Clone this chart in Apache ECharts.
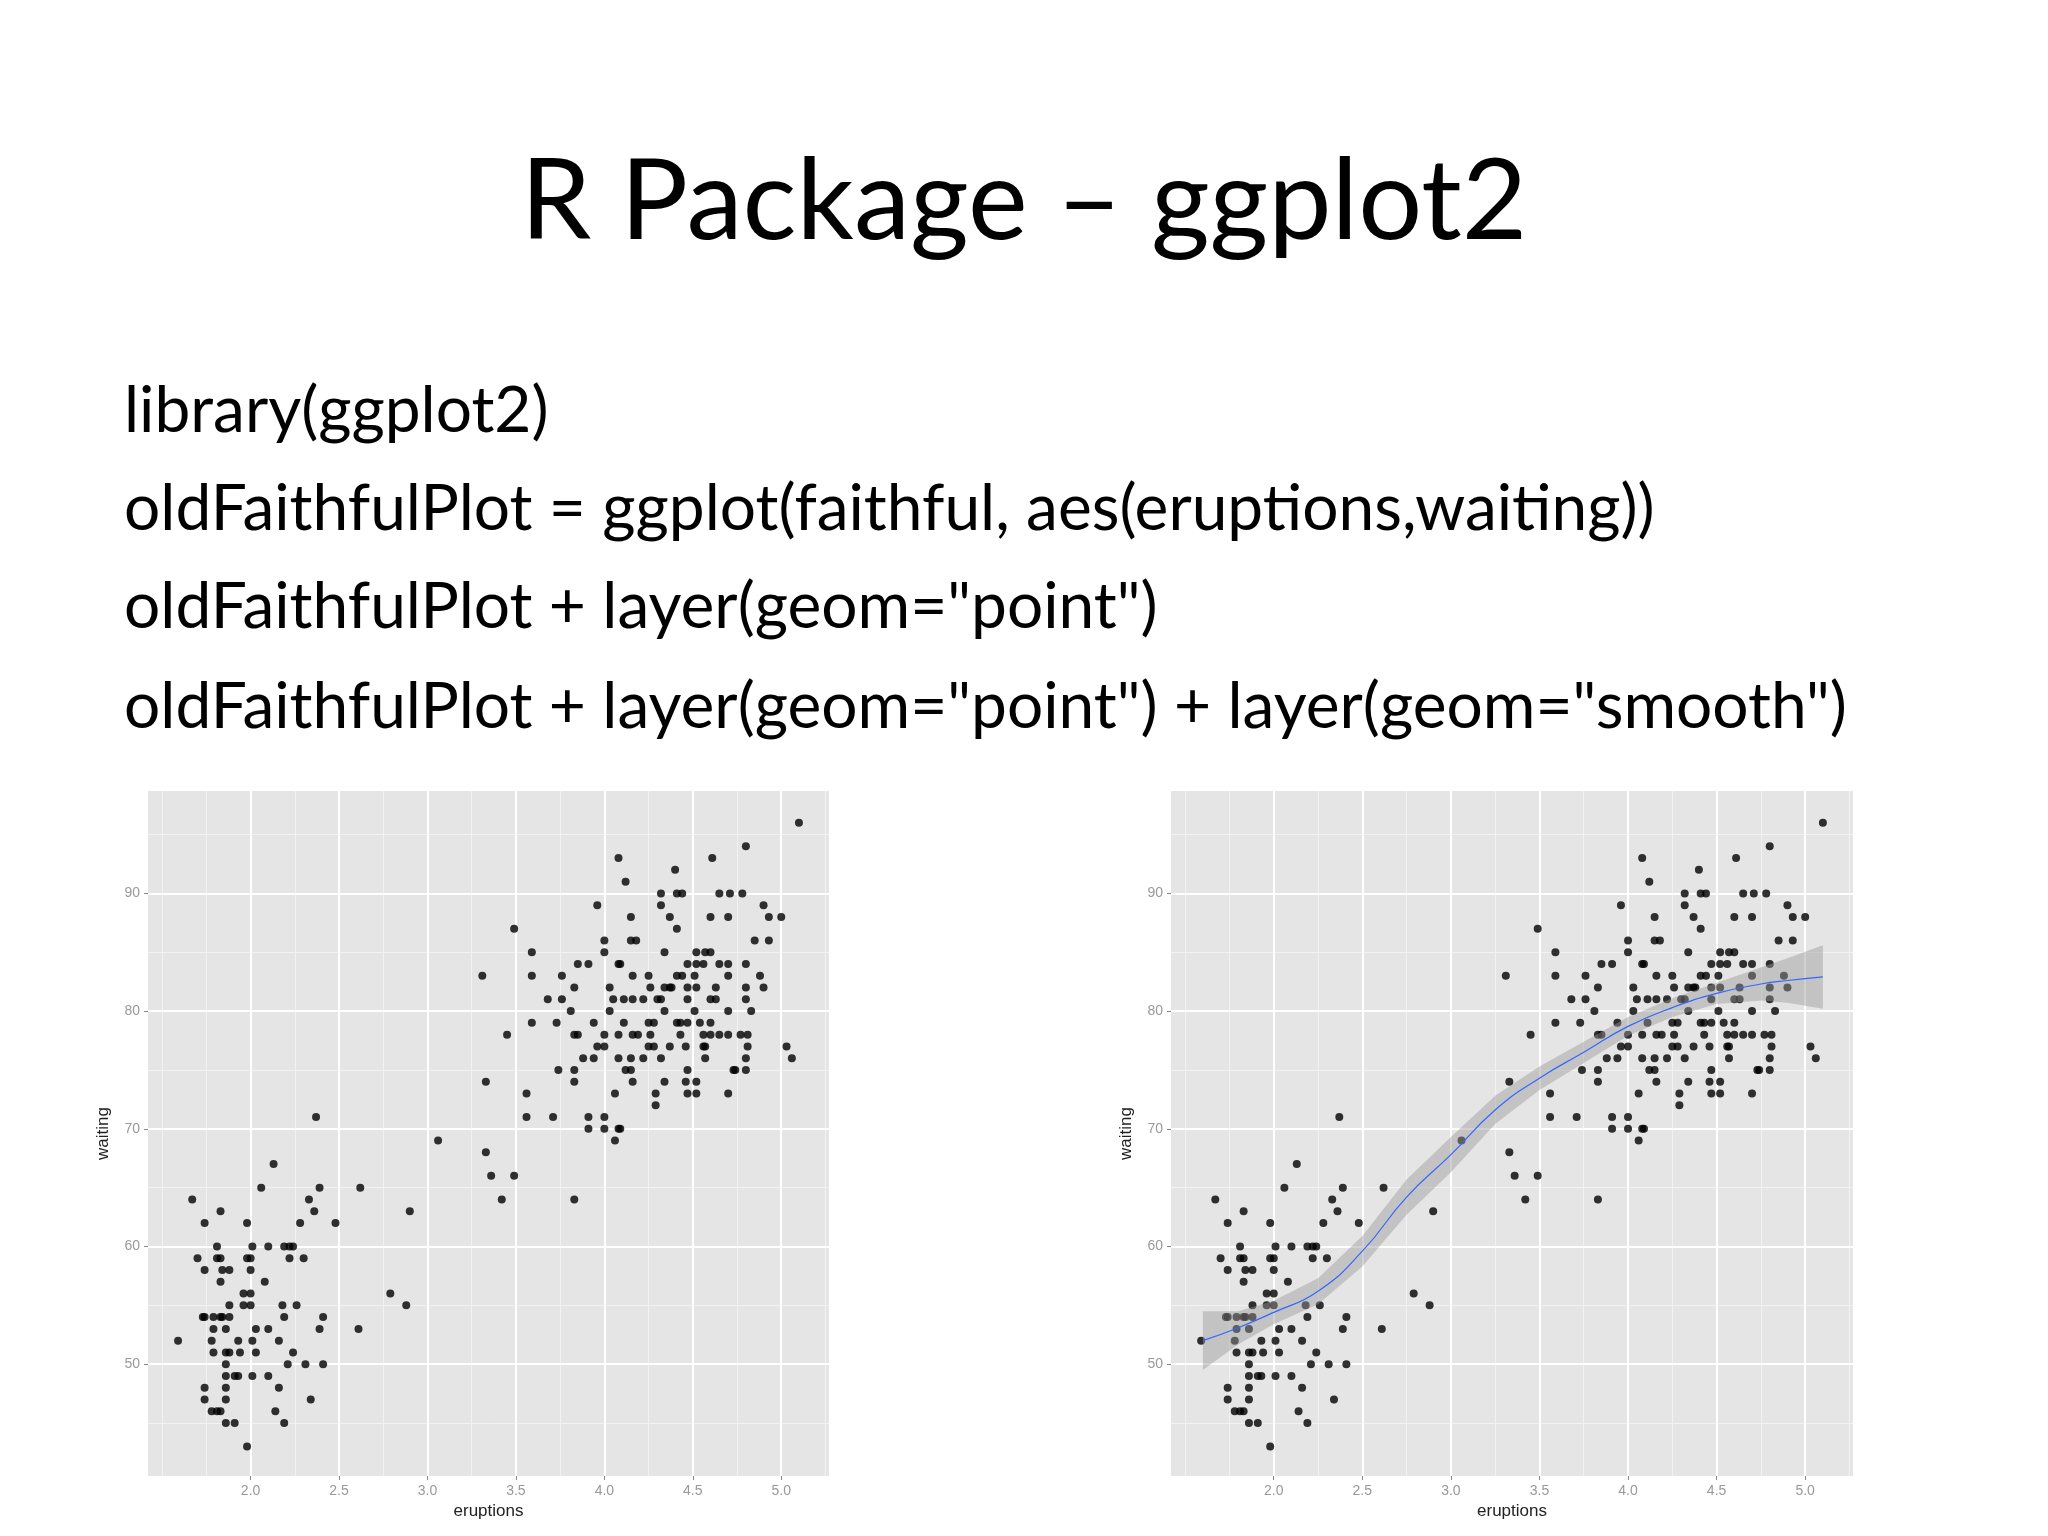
<!DOCTYPE html>
<html>
<head>
<meta charset="utf-8">
<script src="https://cdn.jsdelivr.net/npm/echarts@6/dist/echarts.min.js"></script>
<style>html,body{margin:0;background:#fff}#main{width:2048px;height:1536px}</style>
</head>
<body>
<div id="main"></div>
<script>
// faithful points, grouped by waiting value
var waitingGroups = [
    [96, [5.10]], [94, [4.80]], [93, [4.08, 4.61]], [92, [4.40]], [91, [4.12]],
    [90, [4.32, 4.41, 4.44, 4.65, 4.71, 4.78]],
    [89, [3.96, 4.32, 4.90]],
    [88, [4.15, 4.37, 4.60, 4.70, 4.93, 5.00]],
    [87, [3.49, 4.41]],
    [86, [4.00, 4.15, 4.18, 4.85, 4.93]],
    [85, [3.59, 4.00, 4.34, 4.52, 4.57, 4.60]],
    [84, [3.85, 3.91, 4.08, 4.09, 4.47, 4.52, 4.56, 4.65, 4.70, 4.80]],
    [83, [3.31, 3.59, 3.76, 4.16, 4.25, 4.41, 4.44, 4.51, 4.70, 4.88]],
    [82, [3.83, 4.03, 4.26, 4.34, 4.37, 4.38, 4.47, 4.52, 4.63, 4.80, 4.90]],
    [81, [3.68, 3.76, 4.05, 4.11, 4.16, 4.22, 4.30, 4.32, 4.47, 4.60, 4.63, 4.80]],
    [80, [3.81, 4.03, 4.34, 4.51, 4.70, 4.83]],
    [79, [3.59, 3.73, 3.94, 4.11, 4.25, 4.28, 4.41, 4.43, 4.47, 4.54, 4.60]],
    [78, [3.45, 3.83, 3.85, 4.00, 4.08, 4.16, 4.19, 4.26, 4.43, 4.56, 4.60, 4.65, 4.70, 4.77, 4.81]],
    [77, [3.96, 4.00, 4.25, 4.28, 4.37, 4.46, 4.56, 4.57, 4.81, 5.03]],
    [76, [3.88, 3.94, 4.08, 4.15, 4.22, 4.32, 4.57, 4.80, 5.06]],
    [75, [3.74, 3.83, 4.12, 4.15, 4.47, 4.73, 4.74, 4.80]],
    [74, [3.33, 3.83, 4.16, 4.34, 4.46, 4.52]],
    [73, [3.56, 4.06, 4.29, 4.47, 4.52, 4.70]],
    [72, [4.29]],
    [71, [2.37, 3.56, 3.71, 3.91, 4.00]],
    [70, [3.91, 4.00, 4.08, 4.09]],
    [69, [3.06, 4.06]],
    [68, [3.33]],
    [67, [2.13]],
    [66, [3.36, 3.49]],
    [65, [2.06, 2.39, 2.62]],
    [64, [1.67, 2.33, 3.42, 3.83]],
    [63, [1.83, 2.36, 2.90]],
    [62, [1.74, 1.98, 2.28, 2.48]],
    [60, [1.81, 2.01, 2.10, 2.19, 2.22, 2.24]],
    [59, [1.70, 1.81, 1.83, 1.98, 2.00, 2.22, 2.30]],
    [58, [1.74, 1.84, 1.88, 2.00]],
    [57, [1.83, 2.08]],
    [56, [1.96, 2.00, 2.79]],
    [55, [1.88, 1.96, 2.00, 2.18, 2.26, 2.88]],
    [54, [1.73, 1.74, 1.79, 1.83, 1.84, 1.88, 2.19, 2.41]],
    [53, [1.79, 1.86, 2.03, 2.10, 2.39, 2.61]],
    [52, [1.59, 1.78, 1.93, 2.01, 2.16]],
    [51, [1.79, 1.86, 1.88, 1.94, 2.03, 2.24]],
    [50, [1.86, 2.21, 2.31, 2.41]],
    [49, [1.86, 1.91, 1.93, 2.01, 2.10]],
    [48, [1.74, 1.86, 2.16]],
    [47, [1.74, 1.86, 2.34]],
    [46, [1.78, 1.81, 1.83, 2.14]],
    [45, [1.86, 1.91, 2.19]],
    [43, [1.98]]
];

// loess fit and half-width of its confidence band
var smoothX  = [1.6, 1.8, 2.0, 2.25, 2.5, 2.75, 3.0, 3.25, 3.5, 3.75, 4.0, 4.25, 4.5, 4.75, 4.9, 5.1];
var smoothY  = [52.0, 53.1, 54.4, 56.2, 59.6, 64.2, 67.8, 71.6, 74.3, 76.5, 78.7, 80.3, 81.5, 82.3, 82.6, 82.9];
var smoothSE = [2.5, 1.4, 1.0, 1.1, 1.3, 1.5, 1.5, 1.2, 1.0, 0.9, 0.8, 0.8, 0.9, 1.4, 1.9, 2.7];

var xTicks = [2.0, 2.5, 3.0, 3.5, 4.0, 4.5, 5.0];
var yTicks = [50, 60, 70, 80, 90];
var xMinor = [1.5, 1.75, 2.25, 2.75, 3.25, 3.75, 4.25, 4.75, 5.25];
var yMinor = [45, 55, 65, 75, 85, 95];

var points = [];
waitingGroups.forEach(function (g) {
    g[1].forEach(function (e) { points.push([e, g[0]]); });
});
var fit = [], bandData = [];
for (var i = 0; i < smoothX.length; i++) {
    fit.push([smoothX[i], smoothY[i]]);
    bandData.push([smoothX[i], smoothY[i] - smoothSE[i], smoothY[i] + smoothSE[i]]);
}

var font = 'Liberation Sans';
function gridLines() {
    var d = [];
    xMinor.forEach(function (v) { d.push({xAxis: v, lineStyle: {color: '#f2f2f2', width: 1, type: 'solid'}}); });
    yMinor.forEach(function (v) { d.push({yAxis: v, lineStyle: {color: '#f2f2f2', width: 1, type: 'solid'}}); });
    xTicks.forEach(function (v) { d.push({xAxis: v, lineStyle: {color: '#ffffff', width: 2, type: 'solid'}}); });
    yTicks.forEach(function (v) { d.push({yAxis: v, lineStyle: {color: '#ffffff', width: 2, type: 'solid'}}); });
    return d;
}
function xAx(idx) {
    return {
        type: 'value', gridIndex: idx, min: 1.42, max: 5.27,
        name: 'eruptions', nameLocation: 'middle', nameGap: 27,
        nameTextStyle: {color: '#222', fontSize: 17, fontFamily: font},
        axisLine: {show: false}, splitLine: {show: false},
        axisTick: {show: true, customValues: xTicks, length: 4, lineStyle: {color: '#888'}},
        axisLabel: {customValues: xTicks, color: '#999', fontSize: 14, fontFamily: font, margin: 8,
            formatter: function (v) { return v.toFixed(1); }}
    };
}
function yAx(idx) {
    return {
        type: 'value', gridIndex: idx, min: 40.5, max: 98.7,
        name: 'waiting', nameLocation: 'middle', nameGap: 36, nameRotate: 90,
        nameTextStyle: {color: '#222', fontSize: 17, fontFamily: font},
        axisLine: {show: false}, splitLine: {show: false},
        axisTick: {show: true, customValues: yTicks, length: 4, lineStyle: {color: '#888'}},
        axisLabel: {customValues: yTicks, color: '#999', fontSize: 14, fontFamily: font, margin: 8}
    };
}
function scatter(idx) {
    return {type: 'scatter', xAxisIndex: idx, yAxisIndex: idx, data: points, symbolSize: 8,
        itemStyle: {color: '#000'}, z: 5};
}

var codeLines = [
    'library(ggplot2)',
    'oldFaithfulPlot = ggplot(faithful, aes(eruptions,waiting))',
    'oldFaithfulPlot + layer(geom="point")',
    'oldFaithfulPlot + layer(geom="point") + layer(geom="smooth")'
];
var codeY = [415, 513, 611, 711];
var graphics = [{
    type: 'text', left: 'center', top: 146,
    style: {text: 'R Package \u2013 ggplot2', fontSize: 113, fontFamily: 'Lato', fill: '#000'}
}];
codeLines.forEach(function (t, i) {
    graphics.push({type: 'text', left: 124, top: codeY[i] - 36,
        style: {text: t, fontSize: 64, fontFamily: 'Lato', fill: '#000'}});
});

var myChart = echarts.init(document.getElementById('main'));
myChart.setOption({
    backgroundColor: '#fff',
    animation: false,
    graphic: graphics,
    grid: [
        {left: 148, top: 791, width: 681, height: 685, show: true, backgroundColor: '#e5e5e5', borderWidth: 0},
        {left: 1171, top: 791, width: 682, height: 685, show: true, backgroundColor: '#e5e5e5', borderWidth: 0}
    ],
    xAxis: [xAx(0), xAx(1)],
    yAxis: [yAx(0), yAx(1)],
    series: [
        {type: 'line', xAxisIndex: 0, yAxisIndex: 0, data: [], silent: true,
            markLine: {silent: true, symbol: 'none', label: {show: false}, data: gridLines()}},
        {type: 'line', xAxisIndex: 1, yAxisIndex: 1, data: [], silent: true,
            markLine: {silent: true, symbol: 'none', label: {show: false}, data: gridLines()}},
        scatter(0),
        scatter(1),
        {type: 'custom', xAxisIndex: 1, yAxisIndex: 1, data: bandData, z: 6, silent: true,
            renderItem: function (params, api) {
                if (params.dataIndex !== 0) return;
                var up = [], lo = [];
                bandData.forEach(function (d) {
                    up.push(api.coord([d[0], d[2]]));
                    lo.unshift(api.coord([d[0], d[1]]));
                });
                return {type: 'polygon', shape: {points: up.concat(lo)},
                    style: {fill: 'rgba(153,153,153,0.45)'}};
            }},
        {type: 'line', xAxisIndex: 1, yAxisIndex: 1, data: fit, smooth: true, symbol: 'none',
            lineStyle: {color: '#3366ff', width: 1.2}, z: 7}
    ]
});
</script>
</body>
</html>
